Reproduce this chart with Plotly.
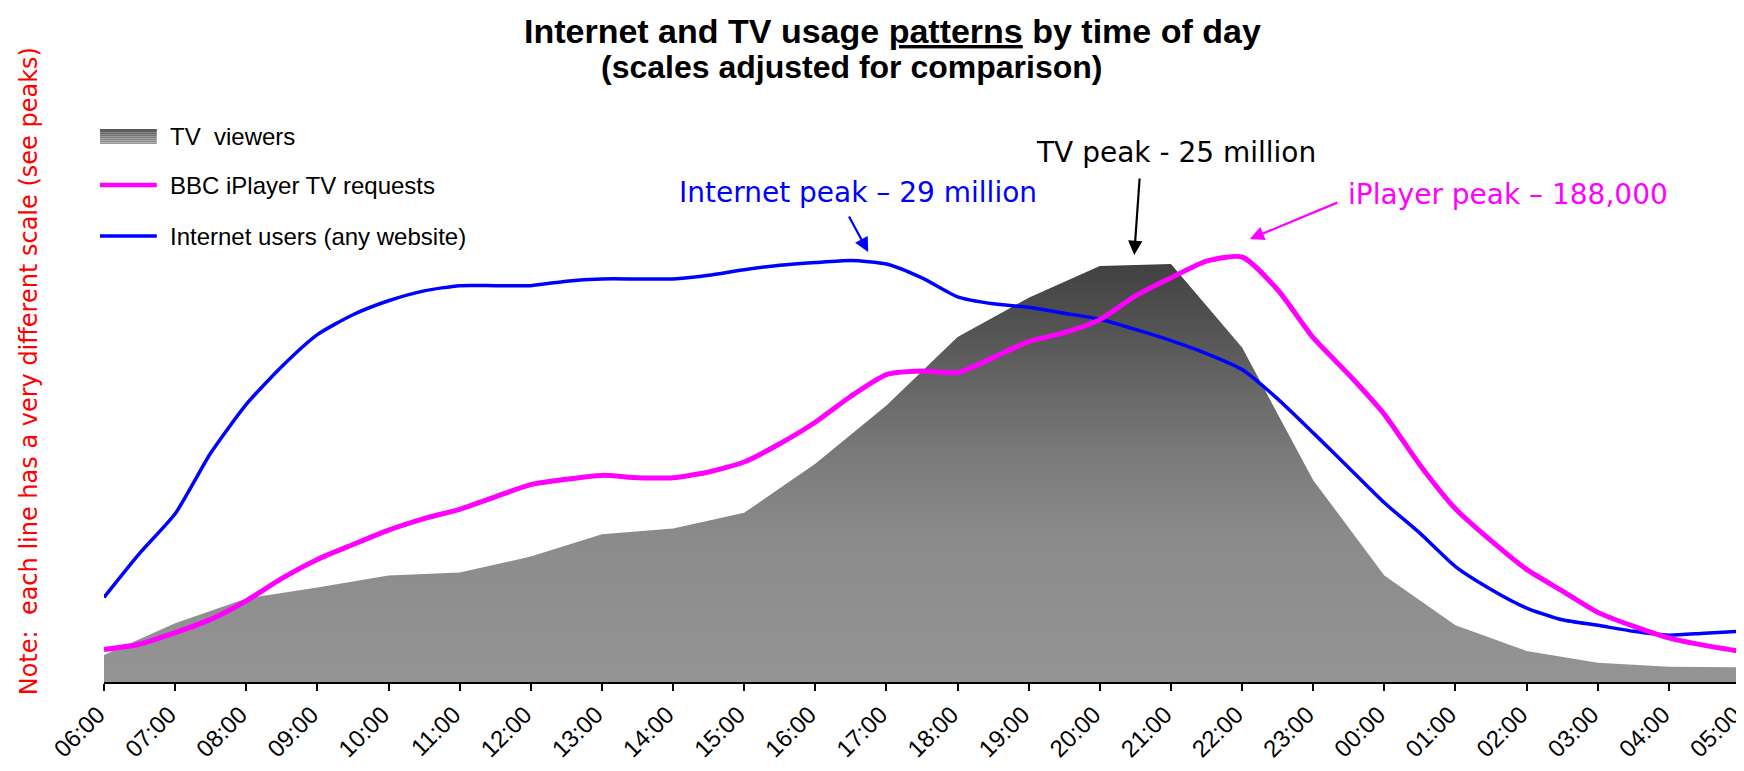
import plotly.graph_objects as go

# ---------------- data ----------------
hour_labels = ["06:00", "07:00", "08:00", "09:00", "10:00", "11:00", "12:00", "13:00",
               "14:00", "15:00", "16:00", "17:00", "18:00", "19:00", "20:00", "21:00",
               "22:00", "23:00", "00:00", "01:00", "02:00", "03:00", "04:00", "05:00"]

# TV viewers, millions, hourly 06:00 .. 05:00
tv_viewers_m = [1.61, 3.51, 5.00, 5.65, 6.37, 6.55, 7.50, 8.84, 9.18, 10.12, 13.05, 16.53,
                20.64, 22.98, 24.88, 25.00, 20.00, 12.07, 6.37, 3.39, 1.85, 1.15, 0.91, 0.88]

# Internet users (any website), millions, half-hourly 06:00 .. 05:00
internet_users_m = [5.82, 8.85, 11.57, 15.75, 19.10, 21.71, 23.90, 25.27, 26.23, 26.91,
                    27.27, 27.27, 27.27, 27.58, 27.73, 27.73, 27.73, 27.99, 28.37, 28.67,
                    28.86, 29.00, 28.76, 27.80, 26.50, 26.02, 25.78, 25.37, 24.96, 24.26,
                    23.49, 22.60, 21.50, 19.48, 17.14, 14.74, 12.33, 10.24, 7.94, 6.37,
                    5.09, 4.28, 3.90, 3.49, 3.22, 3.36, 3.49]

# BBC iPlayer TV requests, half-hourly 06:00 .. 05:00
iplayer_requests = [14400, 16700, 21800, 27700, 35900, 45800, 54200, 60800, 67200, 72300,
                    76400, 81900, 87300, 89700, 91400, 90400, 90400, 92900, 97300, 105400,
                    114900, 126400, 136000, 137600, 136900, 143500, 150600, 154500, 160300,
                    170800, 178800, 186200, 188000, 173500, 152300, 136000, 118400, 96000,
                    76600, 62500, 49800, 40300, 30800, 24700, 19500, 16200, 13600]

tv_peak = 25
internet_peak = 29
iplayer_peak = 188000

series_names = ["TV\u00a0 viewers", "BBC iPlayer TV requests", "Internet users (any website)"]

# ---------------- layout geometry (pixels) ----------------
W, H = 1744, 771
PL, PR, PT, PB = 96, 1738, 226, 674
PLOT_H = PB - PT


def fx(x):
    return (x - PL) / (PR - PL)


def fy(y):
    return (PB - y) / (PB - PT)


hours = list(range(len(hour_labels)))
half_hours = [i / 2 for i in range(len(internet_users_m))]

# each series drawn on its own hidden scale so the peaks sit where they do in the source
tv_top = tv_peak * PLOT_H / 418.0
internet_top = internet_peak * PLOT_H / 421.5
iplayer_top = iplayer_peak * PLOT_H / 425.0

MAGENTA = "#FF00FF"
BLUE = "#0000FF"

fig = go.Figure()

fig.add_trace(go.Scatter(
    x=hours, y=tv_viewers_m, name=series_names[0], mode="lines",
    line=dict(width=0, color="#808080"), fill="tozeroy",
    fillgradient=dict(type="vertical", start=0, stop=tv_peak,
                      colorscale=[[0, "#949494"], [0.35, "#8b8b8b"], [0.55, "#797979"],
                                  [0.7, "#676767"], [0.85, "#535353"], [1, "#414141"]]),
    yaxis="y", showlegend=False, hoverinfo="skip"))

fig.add_trace(go.Scatter(
    x=half_hours, y=iplayer_requests, name=series_names[1], mode="lines",
    line=dict(color=MAGENTA, width=5, shape="spline", smoothing=0.6),
    yaxis="y3", showlegend=False, hoverinfo="skip"))

fig.add_trace(go.Scatter(
    x=half_hours, y=internet_users_m, name=series_names[2], mode="lines",
    line=dict(color=BLUE, width=3.5, shape="spline", smoothing=0.6),
    yaxis="y2", showlegend=False, hoverinfo="skip"))

shapes = []
annotations = []

# ---- legend (drawn by hand) ----
sw_x0, sw_x1 = 92, 149
n_strips = 8
g0, g1 = 0x58, 0x9c
for i in range(n_strips):
    ya = 121.0 + i * 15.0 / n_strips
    yb = 121.0 + (i + 1) * 15.0 / n_strips
    g = int(g0 + (g1 - g0) * i / (n_strips - 1))
    shapes.append(dict(type="rect", xref="paper", yref="paper",
                       x0=fx(sw_x0), x1=fx(sw_x1), y0=fy(yb), y1=fy(ya),
                       fillcolor="rgb(%d,%d,%d)" % (g, g, g), line=dict(width=0)))
shapes.append(dict(type="line", xref="paper", yref="paper", x0=fx(sw_x0), x1=fx(sw_x1),
                   y0=fy(177), y1=fy(177), line=dict(color=MAGENTA, width=4.5)))
shapes.append(dict(type="line", xref="paper", yref="paper", x0=fx(sw_x0), x1=fx(sw_x1),
                   y0=fy(228), y1=fy(228), line=dict(color=BLUE, width=3.5)))

legend_font = dict(family="Liberation Sans, Arial, sans-serif", size=24, color="#000000")
for name, yy in zip(series_names, [128, 177, 228]):
    annotations.append(dict(text=name, xref="paper", yref="paper", x=fx(160), y=fy(yy),
                            xanchor="left", yanchor="middle", showarrow=False,
                            font=legend_font))

# ---- title ----
annotations.append(dict(text="<b>Internet and TV usage <u>patterns</u> by time of day</b>",
                        xref="paper", yref="paper", x=fx(887), y=fy(2),
                        xanchor="center", yanchor="top", showarrow=False,
                        font=dict(family="Liberation Sans, Arial, sans-serif", size=34,
                                  color="#000000")))
annotations.append(dict(text="<b>(scales adjusted for comparison)</b>",
                        xref="paper", yref="paper", x=fx(846), y=fy(59),
                        xanchor="center", yanchor="middle", showarrow=False,
                        font=dict(family="Liberation Sans, Arial, sans-serif", size=32,
                                  color="#000000")))

# ---- side note ----
annotations.append(dict(text="Note:\u00a0 each line has a very different scale (see peaks)",
                        xref="paper", yref="paper", x=fx(21), y=fy(363), textangle=-90,
                        xanchor="center", yanchor="middle", showarrow=False,
                        font=dict(family="DejaVu Sans, Verdana, sans-serif", size=24,
                                  color="#FF0000")))

# ---- peak labels and arrows ----
peak_font = "DejaVu Sans, Verdana, sans-serif"
annotations.append(dict(text="Internet peak \u2013 29 million", xref="paper", yref="paper",
                        x=fx(853), y=fy(184), xanchor="center", yanchor="middle",
                        showarrow=False, font=dict(family=peak_font, size=28, color=BLUE)))
annotations.append(dict(text="TV peak - 25 million", xref="paper", yref="paper",
                        x=fx(1172), y=fy(144), xanchor="center", yanchor="middle",
                        showarrow=False, font=dict(family=peak_font, size=28, color="#000000")))
annotations.append(dict(text="iPlayer peak \u2013 188,000", xref="paper", yref="paper",
                        x=fx(1505), y=fy(186), xanchor="center", yanchor="middle",
                        showarrow=False, font=dict(family=peak_font, size=28, color=MAGENTA)))

for (tx, ty), (hx, hy), col in [((843, 207), (863, 244), BLUE),
                                ((1135.5, 169), (1130, 247), "#000000"),
                                ((1335, 194), (1246, 231), MAGENTA)]:
    annotations.append(dict(text="", xref="paper", yref="paper", x=fx(hx), y=fy(hy),
                            ax=tx - hx, ay=ty - hy, axref="pixel", ayref="pixel",
                            showarrow=True, arrowhead=2, arrowsize=1.3, arrowwidth=2.2,
                            arrowcolor=col, standoff=0))

fig.update_layout(
    width=W, height=H,
    margin=dict(l=PL, r=W - PR, t=PT, b=H - PB, pad=0),
    paper_bgcolor="#FFFFFF", plot_bgcolor="#FFFFFF",
    showlegend=False,
    shapes=shapes, annotations=annotations,
    xaxis=dict(range=[0, len(hour_labels) - 1], tickmode="array", tickvals=hours,
               ticktext=hour_labels, tickangle=-45, showgrid=False, zeroline=False,
               showline=True, linecolor="#000000", linewidth=2,
               ticks="outside", ticklen=7, tickwidth=2, tickcolor="#000000",
               ticklabeloverflow="allow", ticklabelshift=-6,
               tickfont=dict(family="Liberation Sans, Arial, sans-serif", size=24,
                             color="#000000")),
    yaxis=dict(range=[0, tv_top], visible=False, showgrid=False, zeroline=False),
    yaxis2=dict(range=[0, internet_top], visible=False, showgrid=False, zeroline=False,
                overlaying="y"),
    yaxis3=dict(range=[0, iplayer_top], visible=False, showgrid=False, zeroline=False,
                overlaying="y"),
)

fig.write_html("out.html")
